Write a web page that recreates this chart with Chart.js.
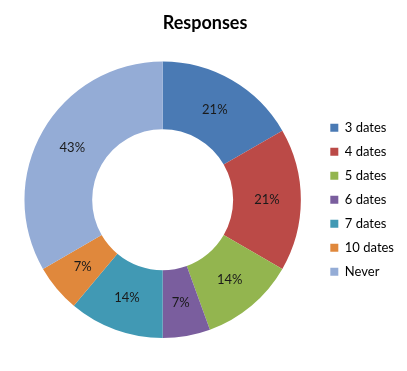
<!DOCTYPE html>
<html>
<head>
<meta charset="utf-8">
<script src="https://cdn.jsdelivr.net/npm/chart.js@4"></script>
<style>
  html, body { margin: 0; padding: 0; background: #fff; }
  #wrap { width: 407px; height: 371px; }
</style>
</head>
<body>
<div id="wrap"><canvas id="responsesChart"></canvas></div>
<script>
// chart data
const categories = ["3 dates", "4 dates", "5 dates", "6 dates", "7 dates", "10 dates", "Never"];
const counts = [3, 3, 2, 1, 2, 1, 6];
const pctLabels = ["21%", "21%", "14%", "7%", "14%", "7%", "43%"];
const colors = ["#4A7AB4", "#BB4A47", "#93B54F", "#7A5E9E", "#4199B4", "#E0883C", "#94ACD6"];

// draw the percent text in the middle of each slice
const sliceLabels = {
  id: "sliceLabels",
  afterDatasetsDraw(chart) {
    const ctx = chart.ctx;
    const meta = chart.getDatasetMeta(0);
    ctx.save();
    ctx.font = "13px Lato, 'Open Sans', sans-serif";
    ctx.fillStyle = "#1a1a1a";
    ctx.textAlign = "center";
    ctx.textBaseline = "middle";
    meta.data.forEach(function (arc, i) {
      const pos = arc.tooltipPosition();
      ctx.fillText(pctLabels[i], pos.x, pos.y);
    });
    ctx.restore();
  }
};

new Chart(document.getElementById("responsesChart"), {
  type: "doughnut",
  data: {
    labels: categories,
    datasets: [{
      data: counts,
      backgroundColor: colors,
      borderWidth: 0
    }]
  },
  options: {
    responsive: true,
    maintainAspectRatio: false,
    animation: false,
    cutout: "51%",
    layout: { padding: { left: 6, right: 3, top: 0, bottom: 33 } },
    plugins: {
      title: {
        display: true,
        text: "Responses",
        color: "#000",
        font: { family: "Lato, 'Open Sans', sans-serif", size: 18, weight: "bold" },
        padding: { top: 12, bottom: 28 }
      },
      legend: {
        position: "right",
        fullSize: false,
        labels: {
          boxWidth: 8,
          boxHeight: 8,
          padding: 11,
          color: "#000",
          font: { family: "Lato, 'Open Sans', sans-serif", size: 13 }
        }
      },
      tooltip: { enabled: false }
    }
  },
  plugins: [sliceLabels]
});
</script>
</body>
</html>
